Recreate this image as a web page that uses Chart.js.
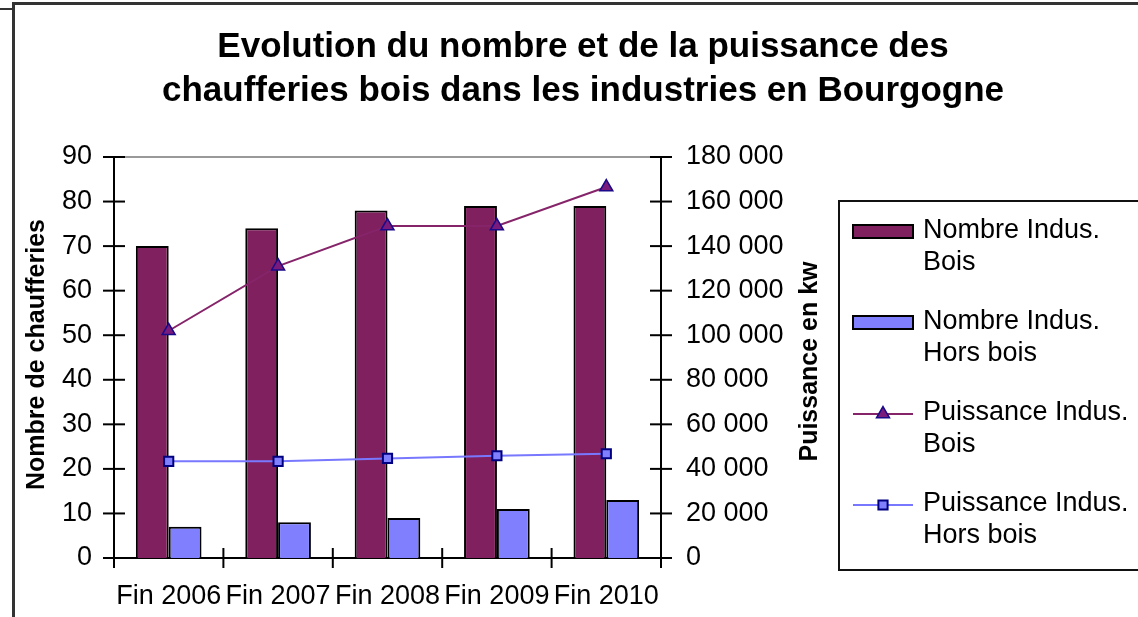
<!DOCTYPE html>
<html>
<head>
<meta charset="utf-8">
<script src="https://cdn.jsdelivr.net/npm/chart.js@4.4.1/dist/chart.umd.min.js"></script>
<style>
  html, body { margin: 0; padding: 0; background: #fff; }
  #wrap { position: relative; width: 1138px; height: 617px; overflow: hidden; }
  #wrap canvas { display: block; }
  .edge { position: absolute; background: #333; }
</style>
</head>
<body>
<div id="wrap">
  <canvas id="chart"></canvas>
  <div class="edge" style="left:12px;top:2px;width:1126px;height:3px"></div>
  <div class="edge" style="left:12px;top:2px;width:3px;height:615px"></div>
  <div class="edge" style="left:0;top:8px;width:12px;height:2px"></div>
</div>
<script>
const categories = ["Fin 2006", "Fin 2007", "Fin 2008", "Fin 2009", "Fin 2010"];
const nombreBois = [70, 74, 78, 79, 79];
const nombreHorsBois = [7, 8, 9, 11, 13];
const puissanceBois = [102000, 131000, 149000, 149000, 166500];
const puissanceHorsBois = [43400, 43400, 44700, 45900, 46800];

const titleLines = [
  "Evolution du nombre et de la puissance des",
  "chaufferies bois dans les industries en Bourgogne",
];
const leftTitle = "Nombre de chaufferies";
const rightTitle = "Puissance en kw";
const seriesNames = [
  ["Nombre Indus.", "Bois"],
  ["Nombre Indus.", "Hors bois"],
  ["Puissance Indus.", "Bois"],
  ["Puissance Indus.", "Hors bois"],
];

const FONT = "'Liberation Sans', Arial, sans-serif";
Chart.defaults.font.family = FONT;
Chart.defaults.color = "#000";

// nombres avec espace des milliers : 180 000
const fmt = (v) => String(v).replace(/\B(?=(\d{3})+(?!\d))/g, " ");

function seg(ctx, x1, y1, x2, y2) {
  ctx.beginPath();
  ctx.moveTo(x1, y1);
  ctx.lineTo(x2, y2);
  ctx.stroke();
}

function marker(ctx, style, x, y, r) {
  ctx.beginPath();
  if (style === "triangle") {
    ctx.moveTo(x, y - r);
    ctx.lineTo(x + r * 0.866, y + r * 0.5);
    ctx.lineTo(x - r * 0.866, y + r * 0.5);
    ctx.closePath();
  } else {
    const s = r / Math.SQRT2;
    ctx.rect(x - s, y - s, 2 * s, 2 * s);
  }
  ctx.fill();
  ctx.stroke();
}

// graduations croisées, titres d'axes et légende encadrée
const decor = {
  id: "decor",
  afterDraw(chart) {
    const { ctx, chartArea: a, scales } = chart;
    ctx.save();

    ctx.strokeStyle = "#999";
    ctx.lineWidth = 2;
    seg(ctx, a.left, a.top, a.right, a.top);

    ctx.strokeStyle = "#000";
    ctx.lineWidth = 2;
    scales.y.ticks.forEach((t) => {
      const py = scales.y.getPixelForValue(t.value);
      seg(ctx, a.left - 11, py, a.left + 11, py);
    });
    scales.y1.ticks.forEach((t) => {
      const py = scales.y1.getPixelForValue(t.value);
      seg(ctx, a.right - 11, py, a.right + 11, py);
    });
    const xs = scales.x;
    const bounds = [a.left];
    for (let i = 1; i < categories.length; i++) {
      bounds.push((xs.getPixelForValue(i - 1) + xs.getPixelForValue(i)) / 2);
    }
    bounds.push(a.right);
    bounds.forEach((px) => seg(ctx, px, a.bottom - 10, px, a.bottom + 10));

    // titres des axes, lus de bas en haut
    ctx.fillStyle = "#000";
    ctx.font = "bold 25px " + FONT;
    ctx.textAlign = "center";
    ctx.textBaseline = "middle";
    const midY = (a.top + a.bottom) / 2;
    [[leftTitle, a.left - 77, midY - 3], [rightTitle, a.right + 149, midY + 4]].forEach(([txt, x, y]) => {
      ctx.save();
      ctx.translate(x, y);
      ctx.rotate(-Math.PI / 2);
      ctx.fillText(txt, 0, 0);
      ctx.restore();
    });

    // légende
    const lx = 839, ly = 201;
    ctx.lineWidth = 2;
    ctx.strokeStyle = "#111";
    ctx.strokeRect(lx, ly, 330, 369);
    ctx.font = "27px " + FONT;
    ctx.textAlign = "left";
    chart.data.datasets.forEach((ds, i) => {
      const cy = ly + 30 + i * 91;
      if (ds.type === "line") {
        ctx.strokeStyle = ds.borderColor;
        ctx.lineWidth = 2;
        seg(ctx, lx + 14, cy + 1, lx + 74, cy + 1);
        ctx.fillStyle = ds.pointBackgroundColor;
        ctx.strokeStyle = ds.pointBorderColor;
        ctx.lineWidth = ds.pointBorderWidth;
        marker(ctx, ds.pointStyle, lx + 44, cy + 1, ds.pointRadius);
      } else {
        ctx.fillStyle = ds.backgroundColor;
        ctx.fillRect(lx + 14, cy - 6, 60, 13);
        ctx.strokeStyle = "#000";
        ctx.lineWidth = 2;
        ctx.strokeRect(lx + 14, cy - 6, 60, 13);
      }
      ctx.fillStyle = "#000";
      seriesNames[i].forEach((txt, k) => ctx.fillText(txt, lx + 84, cy + k * 32));
    });

    ctx.restore();
  },
};

new Chart(document.getElementById("chart"), {
  type: "bar",
  data: {
    labels: categories,
    datasets: [
      {
        label: seriesNames[0].join(" "),
        data: nombreBois,
        backgroundColor: "#80205e",
        borderColor: "#000",
        borderWidth: 2,
        yAxisID: "y",
        order: 1,
      },
      {
        label: seriesNames[1].join(" "),
        data: nombreHorsBois,
        backgroundColor: "#8080ff",
        borderColor: "#000",
        borderWidth: 2,
        yAxisID: "y",
        order: 1,
      },
      {
        type: "line",
        label: seriesNames[2].join(" "),
        data: puissanceBois,
        borderColor: "#86246a",
        borderWidth: 2,
        pointStyle: "triangle",
        pointRadius: 7.5,
        pointBackgroundColor: "#7a1a7a",
        pointBorderColor: "#1a0a8a",
        pointBorderWidth: 1.5,
        tension: 0,
        yAxisID: "y1",
        order: 0,
      },
      {
        type: "line",
        label: seriesNames[3].join(" "),
        data: puissanceHorsBois,
        borderColor: "#7878ff",
        borderWidth: 2,
        pointStyle: "rect",
        pointRadius: 6.5,
        pointBackgroundColor: "#8080ff",
        pointBorderColor: "#000080",
        pointBorderWidth: 2,
        tension: 0,
        yAxisID: "y1",
        order: 0,
      },
    ],
  },
  options: {
    responsive: true,
    maintainAspectRatio: false,
    animation: false,
    layout: { padding: { left: 28, right: 0, top: 0, bottom: 0 } },
    datasets: { bar: { categoryPercentage: 0.6, barPercentage: 1.0 } },
    plugins: {
      legend: { display: false },
      tooltip: { enabled: false },
      title: {
        display: true,
        text: titleLines,
        color: "#000",
        font: { size: 35, weight: "bold", lineHeight: 1.257 },
        padding: { top: 25, bottom: 44 },
      },
    },
    scales: {
      x: {
        grid: { display: false, drawTicks: false },
        border: { display: true, color: "#000", width: 2 },
        ticks: { font: { size: 27 }, color: "#000", padding: 22, maxRotation: 0, autoSkip: false },
        afterFit: (s) => { s.height = 59; },
      },
      y: {
        position: "left",
        min: 0,
        max: 90,
        grid: { display: false, drawTicks: false },
        border: { display: true, color: "#000", width: 2 },
        ticks: { stepSize: 10, font: { size: 27 }, color: "#000", padding: 22 },
        afterFit: (s) => { s.width = 86; },
      },
      y1: {
        position: "right",
        min: 0,
        max: 180000,
        grid: { display: false, drawTicks: false },
        border: { display: true, color: "#000", width: 2 },
        ticks: { stepSize: 20000, font: { size: 27 }, color: "#000", padding: 25, callback: fmt },
        afterFit: (s) => { s.width = 477; },
      },
    },
  },
  plugins: [decor],
});
</script>
</body>
</html>
